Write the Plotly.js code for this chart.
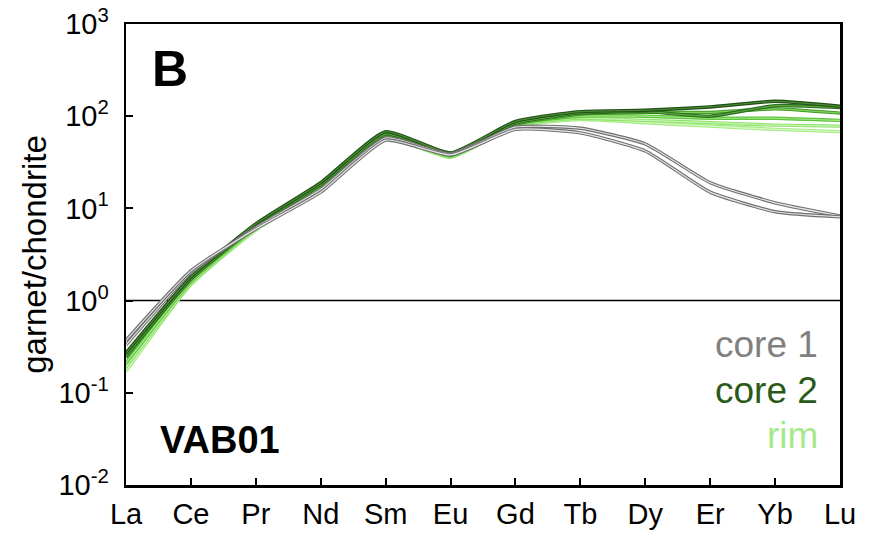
<!DOCTYPE html>
<html>
<head>
<meta charset="utf-8">
<script src="https://cdn.plot.ly/plotly-3.0.1.min.js"></script>
<style>html,body{margin:0;padding:0;background:#fff;}#chart{width:873px;height:537px;}</style>
</head>
<body>
<div id="chart"></div>
<script>
var elements = ['La','Ce','Pr','Nd','Sm','Eu','Gd','Tb','Dy','Er','Yb','Lu'];

var core1_a = [0.37, 2.1, 6.0, 15, 55, 38, 72, 66, 42, 15, 9.2, 8.1];
var core1_b = [0.33, 2.0, 6.2, 16, 58, 39, 76, 74, 50, 19, 11.5, 8.3];

var core2_a = [0.27, 1.8, 6.8, 19, 68, 40, 88, 112, 116, 126, 145, 128];
var core2_b = [0.25, 1.7, 6.5, 18, 64, 39, 84, 108, 112, 100, 130, 124];
var core2_c = [0.24, 1.7, 6.3, 17, 62, 38, 82, 105, 110, 110, 120, 108];

var rim_a = [0.21, 1.6, 6.2, 17, 62, 37, 82, 100, 100, 95, 95, 90];
var rim_b = [0.19, 1.5, 6.0, 16, 60, 36, 80, 95, 90, 85, 80, 78];
var rim_c = [0.17, 1.5, 5.8, 16, 58, 36, 78, 92, 85, 78, 72, 68];

var yTickVals = [0.01, 0.1, 1, 10, 100, 1000];
var yTickText = ['10<sup>-2</sup>','10<sup>-1</sup>','10<sup>0</sup>','10<sup>1</sup>','10<sup>2</sup>','10<sup>3</sup>'];

function line(y, color, inner) {
  return [
    {x: elements, y: y, type: 'scatter', mode: 'lines', hoverinfo: 'skip',
     line: {color: color, width: 3.4, shape: 'spline', smoothing: 0.5}, showlegend: false},
    {x: elements, y: y, type: 'scatter', mode: 'lines', hoverinfo: 'skip',
     line: {color: inner, width: 1.2, shape: 'spline', smoothing: 0.5}, showlegend: false}
  ];
}

var traces = [].concat(
  line(rim_c, '#a3ec82', '#d8f8c8'),
  line(rim_b, '#8fe36a', '#c8f3b3'),
  line(rim_a, '#5cc43a', '#a6e88a'),
  line(core2_c, '#3f9a26', '#7fd060'),
  line(core2_b, '#2d6e1e', '#5aa840'),
  line(core2_a, '#1f4f14', '#4c8a38'),
  line(core1_b, '#6f6f6f', '#e6e6e6'),
  line(core1_a, '#6f6f6f', '#e6e6e6')
);

var font = 'Liberation Sans, Arial, sans-serif';

var layout = {
  width: 873, height: 537,
  margin: {l: 126, r: 33, t: 24, b: 52},
  paper_bgcolor: '#fff', plot_bgcolor: '#fff',
  showlegend: false,
  xaxis: {
    type: 'category', range: [0, elements.length - 1],
    showgrid: false, zeroline: false,
    showline: true, linecolor: '#000', linewidth: 2.5, mirror: true,
    ticks: 'inside', ticklen: 7, tickwidth: 2, tickcolor: '#000',
    ticklabelstandoff: 2,
    tickfont: {family: font, size: 29, color: '#000'}
  },
  yaxis: {
    type: 'log', range: [-2, 3],
    tickvals: yTickVals, ticktext: yTickText,
    showgrid: false, zeroline: false,
    showline: true, linecolor: '#000', linewidth: 2.5, mirror: true,
    ticks: 'inside', ticklen: 7, tickwidth: 2, tickcolor: '#000',
    ticklabelstandoff: 9,
    tickfont: {family: font, size: 29, color: '#000'},
    title: {text: 'garnet/chondrite', font: {family: font, size: 33, color: '#000'}, standoff: 2}
  },
  shapes: [
    {type: 'line', xref: 'paper', yref: 'y', x0: 0, x1: 1, y0: 1, y1: 1,
     line: {color: '#000', width: 1.5}, layer: 'below'}
  ],
  annotations: [
    {text: '<b>B</b>', xref: 'paper', yref: 'paper', x: 0.033, y: 0.902,
     xanchor: 'left', yanchor: 'middle', showarrow: false,
     font: {family: font, size: 50, color: '#000'}},
    {text: '<b>VAB01</b>', xref: 'paper', yref: 'paper', x: 0.045, y: 0.098,
     xanchor: 'left', yanchor: 'middle', showarrow: false,
     font: {family: font, size: 38, color: '#000'}},
    {text: 'core 1', xref: 'paper', yref: 'paper', x: 0.972, y: 0.304,
     xanchor: 'right', yanchor: 'middle', showarrow: false,
     font: {family: font, size: 37, color: '#808080'}},
    {text: 'core 2', xref: 'paper', yref: 'paper', x: 0.972, y: 0.206,
     xanchor: 'right', yanchor: 'middle', showarrow: false,
     font: {family: font, size: 37, color: '#2a5a1a'}},
    {text: 'rim', xref: 'paper', yref: 'paper', x: 0.972, y: 0.108,
     xanchor: 'right', yanchor: 'middle', showarrow: false,
     font: {family: font, size: 37, color: '#a6e88a'}}
  ]
};

Plotly.newPlot('chart', traces, layout, {displayModeBar: false, staticPlot: true});
</script>
</body>
</html>
